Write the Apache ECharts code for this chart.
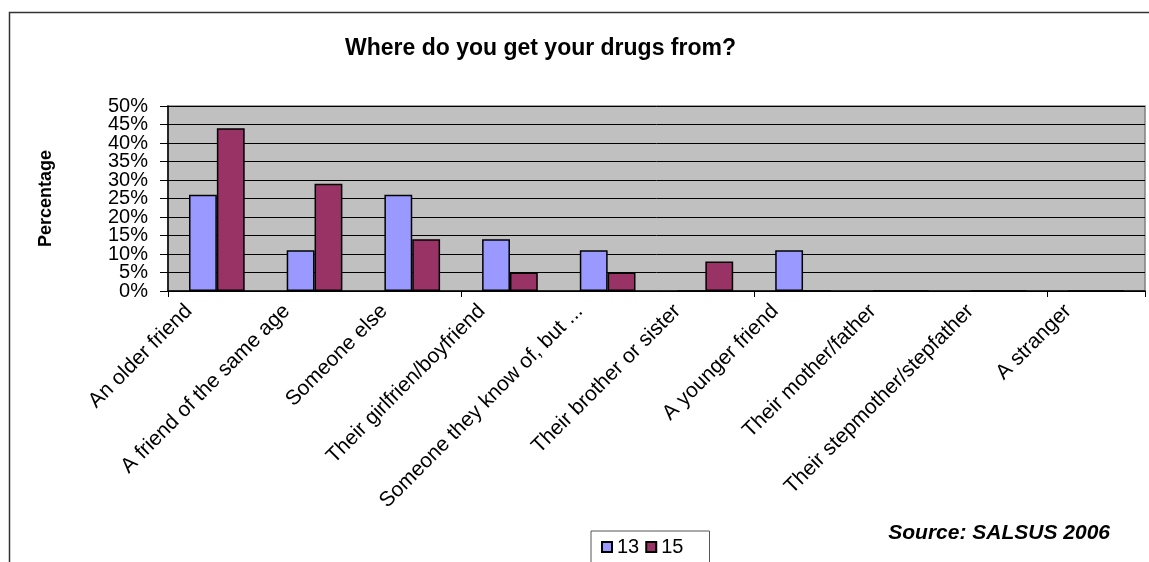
<!DOCTYPE html>
<html>
<head>
<meta charset="utf-8">
<script src="https://cdn.jsdelivr.net/npm/echarts@6/dist/echarts.min.js"></script>
<style>
html,body{margin:0;padding:0;background:#fff;}
#chart{width:1149px;height:562px;}
</style>
</head>
<body>
<div id="chart"></div>
<script>
const categories = [
  "An older friend",
  "A friend of the same age",
  "Someone else",
  "Their girlfrien/boyfriend",
  "Someone they know of, but ...",
  "Their brother or sister",
  "A younger friend",
  "Their mother/father",
  "Their stepmother/stepfather",
  "A stranger"
];
const age13 = [26, 11, 26, 14, 11, 0, 11, 0, 0, 0];
const age15 = [44, 29, 14, 5, 5, 8, 0, 0, 0, 0];
const seriesNames = ["13", "15"];
const yTicks = { min: 0, max: 50, interval: 5 };

const FONT = "Liberation Sans, Arial, sans-serif";
const chart = echarts.init(document.getElementById('chart'), null, {renderer: 'canvas'});
const gridPos = {left: 168, right: 4, top: 106, bottom: 271};
const labelShift = 28;
const yLabelStyle = {margin: 20, fontFamily: FONT, fontSize: 20, color: '#000', showMinLabel: true, showMaxLabel: true, hideOverlap: false};

chart.setOption({
  backgroundColor: '#ffffff',
  animation: false,
  graphic: [{
    type: 'rect', silent: true, z: -10,
    shape: {x: 9.5, y: 12.5, width: 1200, height: 700},
    style: {fill: 'none', stroke: '#333', lineWidth: 1.5}
  }, {
    type: 'text', right: 39, top: 523,
    style: {text: 'Source: SALSUS 2006', font: 'italic bold 21px ' + FONT, fill: '#000'}
  }],
  title: {
    text: 'Where do you get your drugs from?',
    left: 340, top: 32,
    textStyle: {fontFamily: FONT, fontSize: 23, fontWeight: 'bold', color: '#000'}
  },
  legend: {
    data: seriesNames,
    left: 591, top: 531,
    padding: [6, 26, 12, 10],
    itemWidth: 10, itemHeight: 10, itemGap: 6,
    borderColor: '#555', borderWidth: 1,
    icon: 'rect',
    textStyle: {fontFamily: FONT, fontSize: 20, color: '#000'}
  },
  grid: [
    Object.assign({backgroundColor: '#C0C0C0', show: true, borderColor: '#808080', borderWidth: 1.5}, gridPos),
    {left: gridPos.left - labelShift, right: gridPos.right + labelShift, top: gridPos.top, bottom: gridPos.bottom, show: false}
  ],
  xAxis: [{
    type: 'category', gridIndex: 0, data: categories,
    axisLine: {lineStyle: {color: '#000', width: 1.5}},
    axisTick: {show: true, length: 6, lineStyle: {color: '#000'}},
    axisLabel: {show: false},
    splitLine: {show: false}
  }, {
    type: 'category', gridIndex: 1, data: categories,
    axisLine: {show: false}, axisTick: {show: false}, splitLine: {show: false},
    axisLabel: {interval: 0, rotate: 45, margin: 17, fontFamily: FONT, fontSize: 21, color: '#000'}
  }],
  yAxis: [{
    type: 'value', gridIndex: 0, position: 'left', offset: 0,
    min: yTicks.min, max: yTicks.max, interval: yTicks.interval,
    name: 'Percentage', nameLocation: 'middle', nameGap: 113, nameRotate: 90,
    nameTextStyle: {fontFamily: FONT, fontSize: 18, fontWeight: 'bold', color: '#000'},
    axisLine: {show: true, lineStyle: {color: '#000', width: 1.5}},
    axisTick: {show: true, length: 8, lineStyle: {color: '#000'}},
    axisLabel: Object.assign({}, yLabelStyle, {formatter: v => (v % 10 === 0 ? v + '%' : '')}),
    splitLine: {show: true, lineStyle: {color: '#000', width: 1}}
  }, {
    type: 'value', gridIndex: 1, min: 0, max: 50, show: false
  }, {
    type: 'value', gridIndex: 0, position: 'left', offset: 0,
    min: yTicks.min, max: yTicks.max, interval: yTicks.interval,
    axisLine: {show: false}, axisTick: {show: false}, splitLine: {show: false},
    axisLabel: Object.assign({}, yLabelStyle, {formatter: v => (v % 10 !== 0 ? v + '%' : '')})
  }],
  series: [{
    name: seriesNames[0], type: 'bar', xAxisIndex: 0, yAxisIndex: 0,
    data: age13, barGap: '0%', barCategoryGap: '43%',
    itemStyle: {color: '#9999FF', borderColor: '#000', borderWidth: 1.5}
  }, {
    name: seriesNames[1], type: 'bar', xAxisIndex: 0, yAxisIndex: 0,
    data: age15, barGap: '0%', barCategoryGap: '43%',
    itemStyle: {color: '#993366', borderColor: '#000', borderWidth: 1.5}
  }]
});
</script>
</body>
</html>
